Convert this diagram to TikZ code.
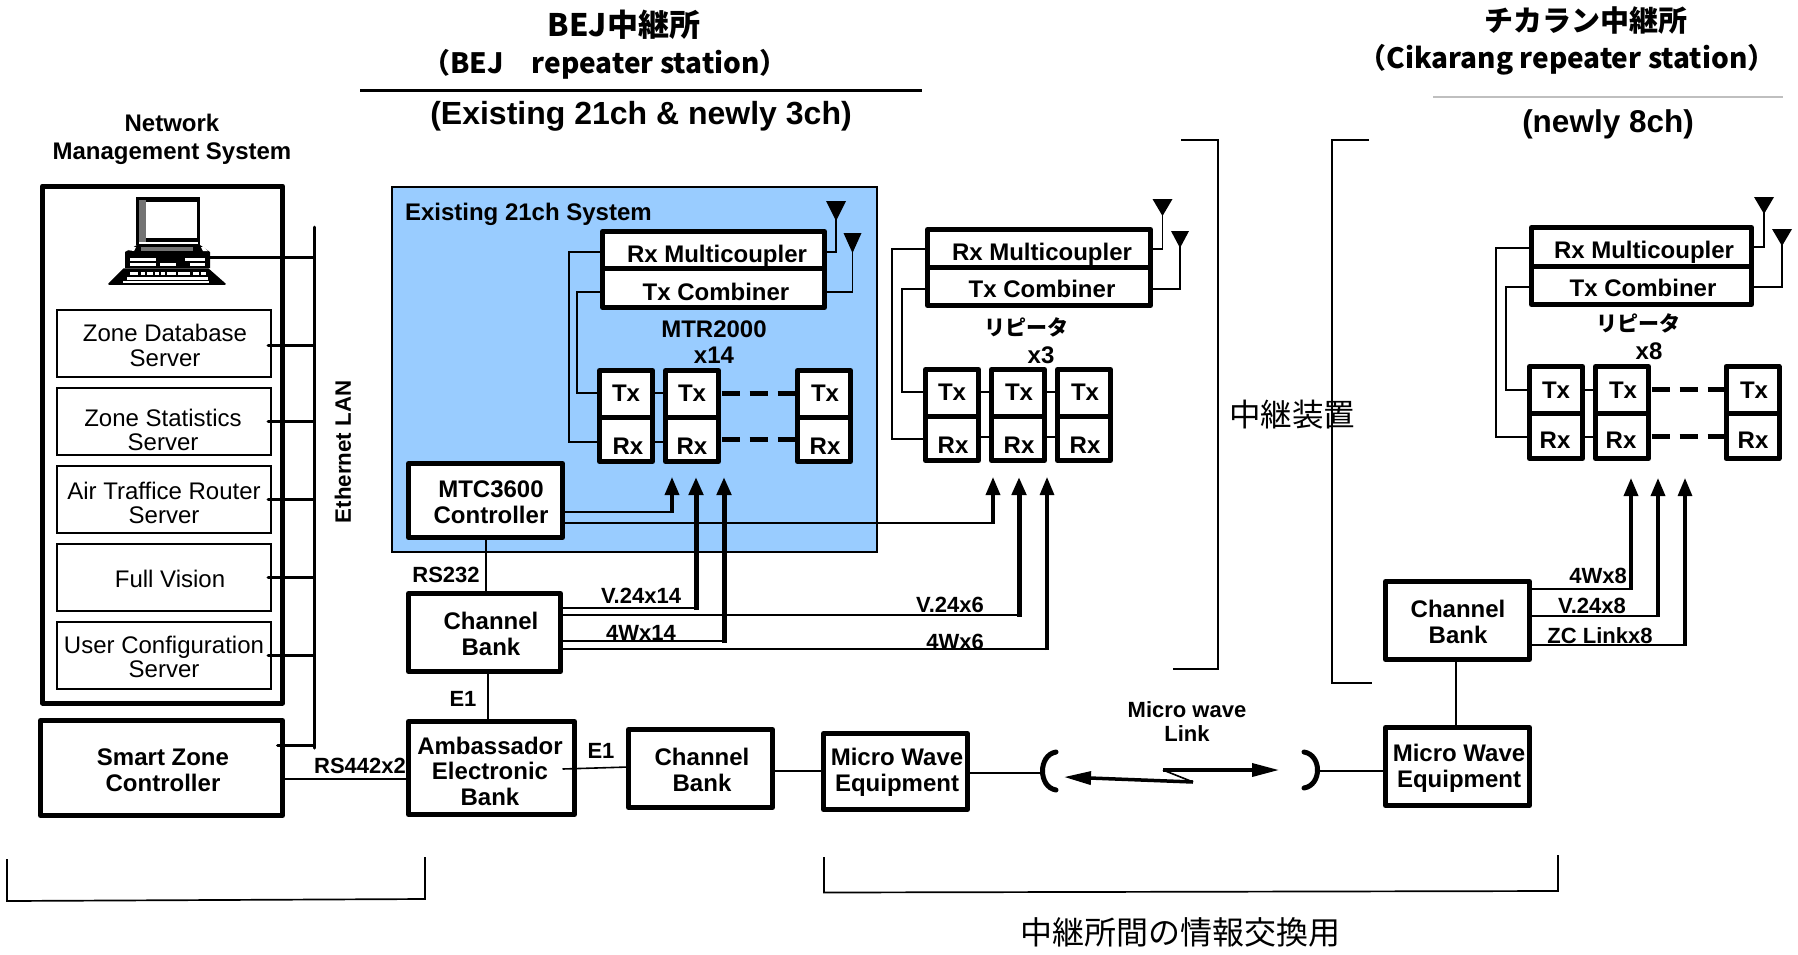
\documentclass[tikz,border=0pt]{standalone}
\usepackage{fontspec}
\setmainfont{Liberation Sans}
\newfontfamily\cjk{Noto Sans CJK JP}
\newcommand\cjkm{\cjk\bfseries}
\usetikzlibrary{arrows.meta,calc}
\definecolor{panelblue}{HTML}{99CCFF}
\tikzset{
  every node/.style={inner sep=0pt,outer sep=0pt},
  heavybox/.style={draw=black,fill=white,line width=5pt,line join=round,rectangle},
  lightbox/.style={draw=black,fill=white,line width=1.6pt,rectangle},
  lbl/.style={align=center,font=\fontsize{24}{26}\selectfont\bfseries},
  smalllbl/.style={align=center,font=\fontsize{22}{24}\selectfont\bfseries},
  srvlbl/.style={align=center,font=\fontsize{24}{24.5}\selectfont},
  wire/.style={line width=1.6pt},
  lan/.style={line width=3pt},
  dots/.style={line width=5pt,dash pattern=on 18pt off 10pt},
  headS/.style={-{Triangle[length=18pt,width=14pt]}},
  uparrow/.style={headS,line width=3.5pt},
  fatarrow/.style={headS,line width=5pt},
  slimarrow/.style={headS,line width=3.1pt},
  bolt/.style={line width=3.5pt,-{Triangle[length=27pt,width=13pt]}},
  dish/.style={line width=5pt,line cap=round},
  brk/.style={line width=1.7pt,line join=miter},
}
% box by centre-line extents: name, x1, y1, x2, y2
\newcommand\boxat[6][heavybox]{%
  \node[#1,minimum width={#5-#3},minimum height={#6-#4},anchor=north west] (#2) at (#3,#4) {};}
% module: name, x1, top, div, bottom, (tx text x,y), (rx text x,y)
\newcommand\modulecell[9]{%
  \boxat{#1t}{#2}{#3}{#2+53}{#4}\boxat{#1r}{#2}{#4}{#2+53}{#5}%
  \node[lbl] (#1tl) at (#6,#7) {Tx};\node[lbl] (#1rl) at (#8,#9) {Rx};}
\newcommand\antenna[3]{% tip coordinate name, half width, height
  \fill[shift={(#1)}] (-#2,0) -- (#2,0) -- (0,#3) -- cycle;}
\begin{document}
\begin{tikzpicture}[x=1pt,y=-1pt]
\useasboundingbox (0,0) rectangle (1798,954);
\fill[white] (0,0) rectangle (1798,954);

% ---------- titles
\node[font=\fontsize{31}{32}\cjkm] (tA) at (624,25) {BEJ中継所};
\node[font=\fontsize{28}{32}\cjkm] (tB) at (605,64) {（BEJ　repeater station）};
\coordinate (ruleAl) at (360,90.5); \coordinate (ruleAr) at (922,90.5);
\draw[line width=2.2pt] (ruleAl) -- (ruleAr);
\node[font=\fontsize{32}{34}\selectfont\bfseries] (tC) at (641,116.5) {(Existing 21ch \& newly 3ch)};
\node[font=\fontsize{29}{32}\cjkm] (tD) at (1586,21) {チカラン中継所};
\node[font=\fontsize{28}{32}\cjkm] (tE) at (1567,60) {（Cikarang repeater station）};
\coordinate (ruleBl) at (1433,97); \coordinate (ruleBr) at (1783,97);
\draw[line width=1.2pt,black!25] (ruleBl) -- (ruleBr);
\node[font=\fontsize{31.5}{34}\selectfont\bfseries] (tF) at (1608,124) {(newly 8ch)};

% ---------- network management system
\node[lbl,font=\fontsize{24}{28}\selectfont\bfseries] (nmst) at (172,139.5) {Network\\Management System};
\boxat{nms}{42.5}{186}{282.5}{703}
\boxat[lightbox]{srv1}{57}{310}{271}{377}
\boxat[lightbox]{srv2}{57}{388}{271}{455}
\boxat[lightbox]{srv3}{57}{466}{271}{533}
\boxat[lightbox]{srv4}{57}{544}{271}{611}
\boxat[lightbox]{srv5}{57}{622}{271}{689}
\node[srvlbl] (s1) at (165,345.5) {Zone Database\\Server};
\node[srvlbl] (s2) at (163,430) {Zone Statistics\\Server};
\node[srvlbl] (s3) at (164,503) {Air Traffice Router\\Server};
\node[srvlbl] (s4) at (170,579) {Full Vision};
\node[srvlbl] (s5) at (164,657) {User Configuration\\Server};

% laptop
\fill (136,197) rectangle (200,245);
\fill[black!55] (139,200) rectangle (146,242);
\fill[white] (146,202) rectangle (197,238);
\fill[white] (139,242) rectangle (198,244);
\fill (125,252) -- (137,245) -- (200,245) -- (210,252) -- (210,268) -- (125,268) -- cycle;
\fill[black!55] (141,247) rectangle (193,251);
\fill[white] (130,258) rectangle (156,261);
\fill[white] (130,263) rectangle (156,266);
\fill[white] (185,258) rectangle (205,261);
\fill[white] (160,263) rectangle (176,266);
\fill[white] (190,263) rectangle (205,266);
\fill[white] (127,250) -- (132,247) -- (136,247) -- (134,251) -- cycle;
\fill[white] (201,247) -- (204,247) -- (208,251) -- (203,251) -- cycle;
\fill[line join=round,draw=black,line width=1.5pt] (109,284) -- (124,269) -- (208,269) -- (225,284) -- cycle;
\foreach \ya/\yb/\sk in {272/275/0,276.5/279.5/1,280.5/283/2}{
  \foreach \xa/\xb in {130/138,141/145,147/153,155/159,161/165,167/176,178/190,193/199,201/206}{
    \fill[white] ({\xa-\sk*3.5},\ya) rectangle ({\xb-\sk*3.5+\sk*5},\yb);
  }}
\coordinate (pc) at (210,257);

% Ethernet bus
\coordinate (lanT) at (314,227); \coordinate (lanB) at (314,748);
\draw[lan,line cap=round] (lanT) -- (lanB);
\node[font=\fontsize{22.3}{24}\selectfont\bfseries,rotate=90] (lanl) at (343,452) {Ethernet LAN};
\draw[lan] (pc) -- (lanT |- pc);
\foreach \s/\y in {srv1/345,srv2/421,srv3/499,srv4/577,srv5/655}
  \draw[lan,line cap=round] ($(\s.east |- 0,\y)+(-3,0)$) -- (lanT |- 0,\y);

% smart zone
\boxat{szc}{40.5}{720.5}{282.5}{815.5}
\node[lbl] (szct) at (163,770) {Smart Zone\\Controller};
\draw[lan,line cap=round] ($(szc.east |- 0,745)+(-5,0)$) -- (lanB |- 0,745);

% ---------- existing 21ch panel
\node[draw=black,fill=panelblue,line width=1.5pt,minimum width=485pt,minimum height=365pt,anchor=north west] (panel) at (392,187) {};
\node[lbl,anchor=west] (panelt) at (405,214) {Existing 21ch System};
\boxat{rxA}{602.5}{231.5}{824.5}{268}
\boxat{txA}{602.5}{268}{824.5}{307.5}
\node[lbl] (rxAl) at (717,256) {Rx Multicoupler};
\node[lbl] (txAl) at (716,292) {Tx Combiner};
\node[lbl] (mtr) at (714,342) {MTR2000\\x14};
\modulecell{a1}{599.5}{370.5}{417}{461.5}{626}{393}{628}{446}
\modulecell{a2}{665.5}{370.5}{417}{461.5}{692}{393}{692}{446}
\modulecell{a3}{797.5}{370.5}{417}{461.5}{825}{393}{825}{446}
\draw[wire] (rxA.west |- 0,252) -- (569,252) -- (569,442) -- (a1r.west |- 0,442);
\draw[wire] (txA.west |- 0,292) -- (577,292) -- (577,393) -- (a1t.west |- 0,393);
\draw[wire] (a1t.east |- 0,393) -- (a2t.west |- 0,393);
\draw[wire] (a1r.east |- 0,442) -- (a2r.west |- 0,442);
\draw[dots] (a2t.east |- 0,393.5) ++(3,0) -- (a3t.west |- 0,393.5);
\draw[dots] (a2r.east |- 0,439) ++(3,0) -- (a3r.west |- 0,439);
\coordinate (antA1) at (836,201); \coordinate (antA2) at (852.5,233);
\draw[line width=1.8pt] (rxA.east |- 0,252) -| (antA1);
\draw[line width=1.8pt] (txA.east |- 0,292) -| (antA2);
\antenna{antA1}{10}{20}\antenna{antA2}{9}{20}
\boxat{mtc}{408.5}{463.5}{562.5}{537.5}
\node[lbl] (mtct) at (491,502) {MTC3600\\Controller};
\coordinate (arA) at (672,477); \coordinate (arB) at (696,477); \coordinate (arC) at (724,477);
\coordinate (arD) at (993,477); \coordinate (arE) at (1019,477); \coordinate (arF) at (1047,477);
\draw[wire] (mtc.east |- 0,512) -- (arA |- 0,512);
\draw[uparrow] (arA |- 0,513) -- (arA);
\draw[wire] (mtc.east |- 0,523) -- (arD |- 0,523);
\draw[uparrow] (arD |- 0,524) -- (arD);

% channel bank 1
\boxat{cbA}{408.5}{593.5}{560.5}{671.5}
\node[lbl] (cbAt) at (491,634) {Channel\\Bank};
\node[smalllbl] (rs232) at (446,575) {RS232};
\draw[wire] (mtc.south -| 486,0) -- (cbA.north -| 486,0);
\draw[wire] (cbA.east |- 0,608) -- (arB |- 0,608);
\draw[fatarrow] (arB |- 0,610) -- (arB);
\draw[wire] (cbA.east |- 0,641) -- (arC |- 0,641);
\draw[fatarrow] (arC |- 0,643) -- (arC);
\draw[wire] (cbA.east |- 0,615) -- (arE |- 0,615);
\draw[fatarrow] (arE |- 0,616.5) -- (arE);
\draw[wire] (cbA.east |- 0,649) -- (arF |- 0,649);
\draw[slimarrow] (arF |- 0,650) -- (arF);
\node[smalllbl] (l1) at (641,596) {V.24x14};
\node[smalllbl] (l2) at (950,605) {V.24x6};
\node[smalllbl] (l3) at (641,633) {4Wx14};
\node[smalllbl] (l4) at (955,642) {4Wx6};

% lower row
\boxat{amb}{408.5}{721.5}{574.5}{814.5}
\node[lbl,font=\fontsize{24}{25.5}\selectfont\bfseries] (ambt) at (490,771) {Ambassador\\Electronic\\Bank};
\draw[wire] (cbA.south -| 488,0) -- (amb.north -| 488,0);
\node[smalllbl] (e1a) at (463,699) {E1};
\draw[wire] (szc.east |- 0,779) -- (amb.west |- 0,779);
\node[smalllbl] (rs442) at (360,766) {RS442x2};
\boxat{cbB}{628.5}{729.5}{772.5}{807.5}
\node[lbl] (cbBt) at (702,770) {Channel\\Bank};
\draw[wire] (amb.east |- 0,769) ++(-12,0) -- (cbB.west |- 0,767);
\node[smalllbl] (e1b) at (601,751) {E1};
\boxat{mwA}{823.5}{733.5}{967.5}{809.5}
\node[lbl] (mwAt) at (897,772) {Micro Wave\\Equipment};
\draw[wire] (cbB.east |- 0,771) -- (mwA.west |- 0,771);
\coordinate (dishA) at (1041,773); \coordinate (dishB) at (1319,771);
\draw[wire] (mwA.east |- dishA) -- (dishA);
\draw[dish] (1056,752) .. controls (1038,755) and (1038,787) .. (1056,790);
\draw[dish] (1304,752) .. controls (1322,755) and (1322,785) .. (1304,788);
\node[smalllbl] (mwl) at (1187,721.5) {Micro wave\\Link};
\coordinate (bL) at (1064,777); \coordinate (bLe) at (1193,782); \coordinate (bRe) at (1163,770); \coordinate (bR) at (1279,770);
\draw[bolt] (bLe) -- (bL);
\draw[line width=1.6pt] (bLe) -- (bRe);
\draw[bolt] (bRe) -- (bR);

% ---------- repeater group 2
\boxat{rxB}{927.5}{229.5}{1150.5}{267}
\boxat{txB}{927.5}{267}{1150.5}{305.5}
\node[lbl] (rxBl) at (1042,254) {Rx Multicoupler};
\node[lbl] (txBl) at (1042,289) {Tx Combiner};
\node[font=\fontsize{21}{24}\cjkm] (repB) at (1026,327) {リピータ};
\node[lbl] (repBx) at (1041,355) {x3};
\modulecell{b1}{925.5}{369.5}{416}{460.5}{952}{392}{953}{445}
\modulecell{b2}{991.5}{369.5}{416}{460.5}{1019}{392}{1019}{445}
\modulecell{b3}{1057.5}{369.5}{416}{460.5}{1085}{392}{1085}{445}
\draw[wire] (rxB.west |- 0,249) -- (892,249) -- (892,439) -- (b1r.west |- 0,439);
\draw[wire] (txB.west |- 0,289) -- (902,289) -- (902,392) -- (b1t.west |- 0,392);
\draw[wire] (b1t.east |- 0,392) -- (b2t.west |- 0,392);
\draw[wire] (b2t.east |- 0,392) -- (b3t.west |- 0,392);
\draw[wire] (b1r.east |- 0,437) -- (b2r.west |- 0,437);
\draw[wire] (b2r.east |- 0,437) -- (b3r.west |- 0,437);
\coordinate (antB1) at (1162.5,199); \coordinate (antB2) at (1180,231);
\draw[line width=1.8pt] (rxB.east |- 0,249) -| (antB1);
\draw[line width=1.8pt] (txB.east |- 0,289) -| (antB2);
\antenna{antB1}{10}{17}\antenna{antB2}{9}{17}

% brackets + label
\coordinate (k1) at (1181,140); \coordinate (k2) at (1218,140); \coordinate (k3) at (1218,669); \coordinate (k4) at (1173,669);
\draw[brk] (k1) -- (k2) -- (k3) -- (k4);
\coordinate (k5) at (1369,140); \coordinate (k6) at (1332,140); \coordinate (k7) at (1332,683); \coordinate (k8) at (1372,683);
\draw[brk] (k5) -- (k6) -- (k7) -- (k8);
\node[font=\fontsize{31.5}{34}\cjk] (rep) at (1292,415) {中継装置};

% ---------- repeater group 3
\boxat{rxC}{1531.5}{227.5}{1751.5}{266}
\boxat{txC}{1531.5}{266}{1751.5}{304.5}
\node[lbl] (rxCl) at (1644,252) {Rx Multicoupler};
\node[lbl] (txCl) at (1643,288) {Tx Combiner};
\node[font=\fontsize{21}{24}\cjkm] (repC) at (1638,323) {リピータ};
\node[lbl] (repCx) at (1649,351) {x8};
\modulecell{c1}{1529.5}{366.5}{413}{458.5}{1556}{390}{1555}{440}
\modulecell{c2}{1595.5}{366.5}{413}{458.5}{1623}{390}{1621}{440}
\modulecell{c3}{1726}{366.5}{413}{458.5}{1754}{390}{1753}{440}
\draw[wire] (rxC.west |- 0,248) -- (1496,248) -- (1496,437) -- (c1r.west |- 0,437);
\draw[wire] (txC.west |- 0,287) -- (1506,287) -- (1506,390) -- (c1t.west |- 0,390);
\draw[wire] (c1t.east |- 0,390) -- (c2t.west |- 0,390);
\draw[wire] (c1r.east |- 0,437) -- (c2r.west |- 0,437);
\draw[dots] (c2t.east |- 0,389) ++(3,0) -- (c3t.west |- 0,389);
\draw[dots] (c2r.east |- 0,436) ++(3,0) -- (c3r.west |- 0,436);
\coordinate (antC1) at (1764,197); \coordinate (antC2) at (1782,229);
\draw[line width=1.8pt] (rxC.east |- 0,247) -| (antC1);
\draw[line width=1.8pt] (txC.east |- 0,287) -| (antC2);
\antenna{antC1}{10}{17}\antenna{antC2}{10}{17}
\boxat{cbC}{1385.5}{581.5}{1529.5}{659.5}
\node[lbl] (cbCt) at (1458,622) {Channel\\Bank};
\boxat{mwB}{1385.5}{727.5}{1529.5}{805.5}
\node[lbl] (mwBt) at (1459,768.5) {Micro Wave\\Equipment};
\draw[wire] (cbC.south -| 1456,0) -- (mwB.north -| 1456,0);
\draw[wire] (dishB) -- (mwB.west |- dishB);
\coordinate (arG) at (1631,478); \coordinate (arH) at (1658,478); \coordinate (arI) at (1685,478);
\draw[wire] (cbC.east |- 0,589) -- (arG |- 0,589);
\draw[uparrow] (arG |- 0,590) -- (arG);
\draw[wire] (cbC.east |- 0,616) -- (arH |- 0,616);
\draw[uparrow] (arH |- 0,617) -- (arH);
\draw[wire] (cbC.east |- 0,645) -- (arI |- 0,645);
\draw[slimarrow] (arI |- 0,646) -- (arI);
\node[smalllbl] (l5) at (1598,576) {4Wx8};
\node[smalllbl] (l6) at (1592,606) {V.24x8};
\node[smalllbl] (l7) at (1600,636) {ZC Linkx8};

% ---------- lower brackets
\coordinate (m1) at (7,859); \coordinate (m2) at (7,901); \coordinate (m3) at (425,899); \coordinate (m4) at (425,857);
\draw[brk] (m1) -- (m2) -- (m3) -- (m4);
\coordinate (n1) at (824,857); \coordinate (n2) at (824,892.5); \coordinate (n3) at (1558,891); \coordinate (n4) at (1558,855);
\draw[brk] (n1) -- (n2) -- (n3) -- (n4);
\node[font=\fontsize{32}{34}\cjk] (cap) at (1180,932) {中継所間の情報交換用};
\end{tikzpicture}
\end{document}
